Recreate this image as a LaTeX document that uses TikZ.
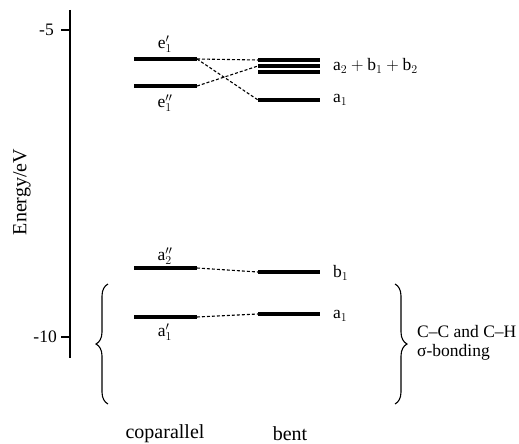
\documentclass[tikz,border=0pt]{standalone}
\usepackage{fontspec}
\setmainfont{Liberation Serif}
\usetikzlibrary{decorations.pathreplacing}
\begin{document}
\begin{tikzpicture}[x=1pt,y=-1pt,
  level/.style={line width=3.6pt},
  tight/.style={line width=3.2pt},
  corr/.style={densely dashed,line width=1.1pt},
  lab/.style={font=\fontsize{17.5}{19}\selectfont,inner sep=0pt},
  big/.style={font=\fontsize{20}{22}\selectfont,inner sep=0pt},
  curly/.style={decorate,decoration={brace,amplitude=12pt},line width=1.1pt}]
\useasboundingbox (0,0) rectangle (519,444);

% energy axis with ticks
\coordinate (axTop) at (70,10);
\coordinate (axBot) at (70,358);
\draw[line width=1.3pt] (axTop) -- (axBot);
\coordinate (t5) at (70,30);
\coordinate (t10) at (70,337);
\draw[line width=1.2pt] (t5) -- ++(-9,0);
\draw[line width=1.2pt] (t10) -- ++(-9,0);
\node[lab,anchor=east] (l5) at (54,30) {-5};
\node[lab,anchor=east] (l10) at (57,337) {-10};
\node[big,rotate=90] (ylab) at (22,192) {Energy/eV};

% coparallel levels
\coordinate (epL) at (134,59);  \coordinate (epR) at (197,59);
\coordinate (eppL) at (134,86); \coordinate (eppR) at (197,86);
\coordinate (atL) at (134,268); \coordinate (atR) at (197,268);
\coordinate (aoL) at (134,317); \coordinate (aoR) at (197,317);
\draw[level] (epL) -- (epR);
\draw[level] (eppL) -- (eppR);
\draw[level] (atL) -- (atR);
\draw[level] (aoL) -- (aoR);
\node[lab] (nep) at (165,44) {$\mathrm{e}_1'$};
\node[lab] (nepp) at (165,103) {$\mathrm{e}_1''$};
\node[lab] (nat) at (165,256) {$\mathrm{a}_2''$};
\node[lab] (nao) at (165,332) {$\mathrm{a}_1'$};

% bent levels
\coordinate (b1L) at (258,60); \coordinate (b1R) at (320,60);
\coordinate (b2L) at (258,66); \coordinate (b2R) at (320,66);
\coordinate (b3L) at (258,72); \coordinate (b3R) at (320,72);
\coordinate (baL) at (258,100); \coordinate (baR) at (320,100);
\coordinate (bbL) at (258,272); \coordinate (bbR) at (320,272);
\coordinate (bcL) at (258,314); \coordinate (bcR) at (320,314);
\draw[tight] (b1L) -- (b1R);
\draw[tight] (b2L) -- (b2R);
\draw[tight] (b3L) -- (b3R);
\draw[level] (baL) -- (baR);
\draw[level] (bbL) -- (bbR);
\draw[level] (bcL) -- (bcR);
\node[lab,anchor=west] (nb1) at (333,66) {$\mathrm{a}_2 + \mathrm{b}_1 + \mathrm{b}_2$};
\node[lab,anchor=west] (nba) at (333,100) {$\mathrm{a}_1$};
\node[lab,anchor=west] (nbb) at (333,273) {$\mathrm{b}_1$};
\node[lab,anchor=west] (nbc) at (333,316) {$\mathrm{a}_1$};

% correlation lines
\draw[corr] (epR) -- (b1L);
\draw[corr] (epR) -- (baL);
\draw[corr] (eppR) -- (b2L);
\draw[corr] (atR) -- (bbL);
\draw[corr] (aoR) -- (bcL);

% braces for the sigma-bonding set
\coordinate (brLa) at (108,404); \coordinate (brLb) at (108,284);
\coordinate (brRa) at (395,284); \coordinate (brRb) at (395,404);
\draw[curly] (brLa) -- (brLb);
\draw[curly] (brRa) -- (brRb);
\node[lab,anchor=west,align=left] (sig) at (417,343) {C--C and C--H\\σ-bonding};

% column titles
\node[big] (cop) at (165,434) {coparallel};
\node[big] (bent) at (290,434) {bent};
\end{tikzpicture}
\end{document}
